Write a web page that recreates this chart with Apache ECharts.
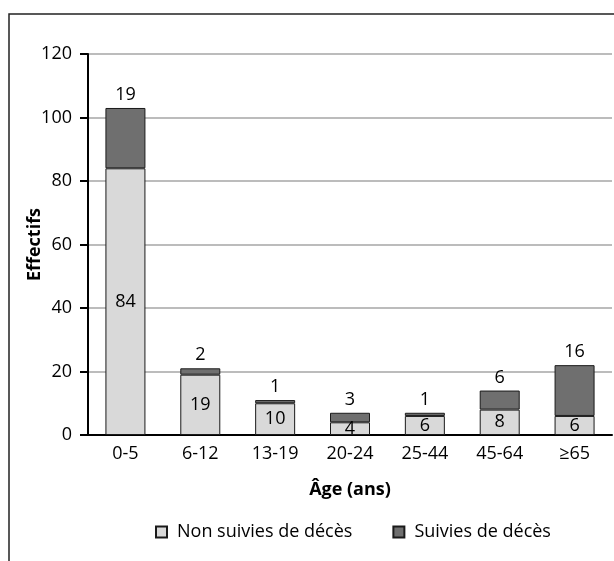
<!DOCTYPE html>
<html>
<head>
<meta charset="utf-8">
<script src="https://cdn.jsdelivr.net/npm/echarts@6/dist/echarts.min.js"></script>
<style>
  body { margin: 0; background: #fff; }
</style>
</head>
<body>
<div id="chart" style="width: 614px;height: 561px"></div>
<script>
// catégories d'âge
const categories = ['0-5', '6-12', '13-19', '20-24', '25-44', '45-64', '≥65'];
// effectifs
const nonSuivies = [84, 19, 10, 4, 6, 8, 6];
const suivies = [19, 2, 1, 3, 1, 6, 16];
const yTicks = { min: 0, max: 120, interval: 20 };

const font = 'Open Sans';
const chart = echarts.init(document.getElementById('chart'));

chart.setOption({
  animation: false,
  textStyle: { fontFamily: font, color: '#000' },
  graphic: [{
    type: 'polyline',
    shape: { points: [[9, 561], [9, 14], [614, 14]] },
    style: { stroke: '#222', lineWidth: 1.5, fill: null }
  }],
  grid: { left: 88, right: 2, top: 54, bottom: 126 },
  legend: {
    top: 518,
    left: 150,
    icon: 'rect',
    itemWidth: 11,
    itemHeight: 11,
    itemGap: 40,
    textStyle: { fontFamily: font, fontSize: 18, color: '#000', padding: [0, 0, 0, 5] },
    data: ['Non suivies de décès', 'Suivies de décès']
  },
  xAxis: {
    type: 'category',
    data: categories,
    name: 'Âge (ans)',
    nameLocation: 'middle',
    nameGap: 46,
    nameTextStyle: { fontFamily: font, fontSize: 18, fontWeight: 'bold', color: '#000' },
    axisLine: { lineStyle: { color: '#000', width: 2 } },
    axisTick: { length: 10, lineStyle: { color: '#000', width: 1.5 } },
    axisLabel: { fontFamily: font, fontSize: 18, color: '#000', margin: 10 }
  },
  yAxis: {
    type: 'value',
    min: yTicks.min,
    max: yTicks.max,
    interval: yTicks.interval,
    name: 'Effectifs',
    nameLocation: 'middle',
    nameGap: 44,
    nameMoveOverlap: false,
    nameTextStyle: { fontFamily: font, fontSize: 18, fontWeight: 'bold', color: '#000' },
    axisLine: { show: true, lineStyle: { color: '#000', width: 2 } },
    axisTick: { show: true, length: 8, lineStyle: { color: '#000', width: 2 } },
    axisLabel: { fontFamily: font, fontSize: 18, color: '#000', margin: 16 },
    splitLine: { lineStyle: { color: '#a6a6a6', width: 1.5 } }
  },
  series: [
    {
      name: 'Non suivies de décès',
      type: 'bar',
      stack: 'total',
      barWidth: 40,
      data: nonSuivies,
      itemStyle: { color: '#d9d9d9', borderColor: '#1a1a1a', borderWidth: 1 },
      label: { show: true, position: 'inside', fontFamily: font, fontSize: 18, color: '#000' }
    },
    {
      name: 'Suivies de décès',
      type: 'bar',
      stack: 'total',
      barWidth: 40,
      data: suivies,
      itemStyle: { color: '#6f6f6f', borderColor: '#1a1a1a', borderWidth: 1 },
      label: { show: true, position: 'top', distance: 4, fontFamily: font, fontSize: 18, color: '#000' }
    }
  ]
});
</script>
</body>
</html>
